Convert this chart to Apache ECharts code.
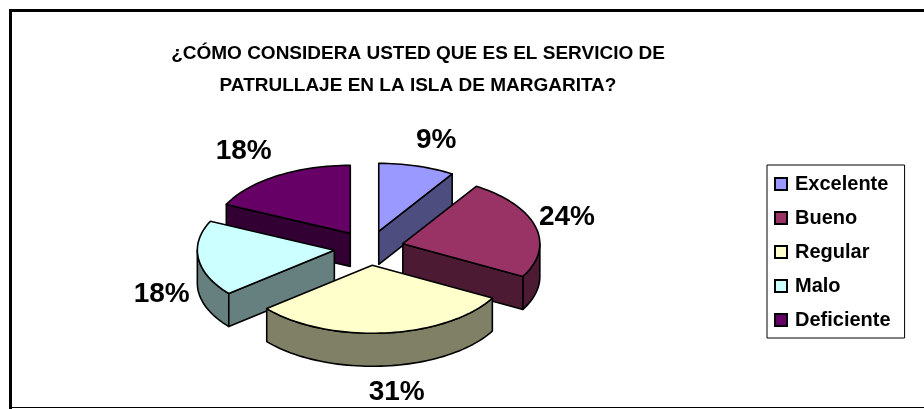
<!DOCTYPE html>
<html>
<head>
<meta charset="utf-8">
<script src="https://cdn.jsdelivr.net/npm/echarts@6/dist/echarts.min.js"></script>
<style>
  html, body { margin: 0; padding: 0; background: #fff; }
  #chart { width: 924px; height: 409px; }
</style>
</head>
<body>
<div id="chart"></div>
<script>
// data
const categories = ['Excelente', 'Bueno', 'Regular', 'Malo', 'Deficiente'];
const percentages = [9, 24, 31, 18, 18];
const topColors = ['#9999FF', '#993366', '#FFFFCC', '#CCFFFF', '#660066'];
// small label tweaks, Excel had them dragged around a bit
const labelNudge = [[3, 2], [-25, -2], [6, -2], [21, 28], [-2, 0]];

// 3d pie geometry
const CX = 369, CY = 248, RX = 137, RY = 68, DEPTH = 33, EXPLODE = 0.255;
const FONT = '"Liberation Sans", Arial, sans-serif';

function shade(hex, f) {
  const n = parseInt(hex.slice(1), 16);
  const r = Math.round(((n >> 16) & 255) * f);
  const g = Math.round(((n >> 8) & 255) * f);
  const b = Math.round((n & 255) * f);
  return 'rgb(' + r + ',' + g + ',' + b + ')';
}

function pt(ox, oy, deg, dy) {
  const r = deg * Math.PI / 180;
  return [ox + RX * Math.sin(r), oy - RY * Math.cos(r) + (dy || 0)];
}

function arc(ox, oy, a, b, dy) {
  const n = Math.max(2, Math.ceil(Math.abs(b - a) / 2));
  const pts = [];
  for (let k = 0; k <= n; k++) pts.push(pt(ox, oy, a + (b - a) * k / n, dy));
  return pts;
}

function renderSlice(i) {
  return function (params, api) {
    const total = percentages.reduce((s, v) => s + v, 0);
    let before = 0;
    for (let k = 0; k < i; k++) before += percentages[k];
    const value = api.value(0);
    const start = before / total * 360;
    const end = start + value / total * 360;
    const mid = (start + end) / 2 * Math.PI / 180;
    const ox = CX + EXPLODE * RX * Math.sin(mid);
    const oy = CY - EXPLODE * RY * Math.cos(mid);
    const base = Math.round((1 - Math.cos(mid)) * 50) * 3;
    const side = shade(topColors[i], 0.5);
    const sideStyle = { fill: side, stroke: '#000', lineWidth: 1.6, lineJoin: 'round' };
    const children = [];

    // curved outer wall, only the part facing us
    const t1 = Math.max(start, 90), t2 = Math.min(end, 270);
    if (t2 > t1) {
      children.push({
        type: 'polygon', z2: base,
        shape: { points: arc(ox, oy, t1, t2, 0).concat(arc(ox, oy, t2, t1, DEPTH)) },
        style: sideStyle
      });
    }
    // flat cut faces
    if (Math.sin(start * Math.PI / 180) < -1e-6) {
      const p = pt(ox, oy, start);
      children.push({
        type: 'polygon', z2: base,
        shape: { points: [[ox, oy], p, [p[0], p[1] + DEPTH], [ox, oy + DEPTH]] },
        style: sideStyle
      });
    }
    if (Math.sin(end * Math.PI / 180) > 1e-6) {
      const p = pt(ox, oy, end);
      children.push({
        type: 'polygon', z2: base,
        shape: { points: [[ox, oy], p, [p[0], p[1] + DEPTH], [ox, oy + DEPTH]] },
        style: sideStyle
      });
    }
    // top face
    children.push({
      type: 'polygon', z2: base + 1,
      shape: { points: [[ox, oy]].concat(arc(ox, oy, start, end, 0)) },
      style: { fill: topColors[i], stroke: '#000', lineWidth: 1.6, lineJoin: 'round' }
    });
    // percent label
    const k = 1.68;
    const lx = CX + k * RX * Math.sin(mid) + labelNudge[i][0];
    const ly = CY - k * RY * Math.cos(mid) + DEPTH * Math.max(0, -Math.cos(mid)) + labelNudge[i][1];
    children.push({
      type: 'text', z2: 1000, x: lx, y: ly,
      style: {
        text: value + '%', fill: '#000', align: 'center', verticalAlign: 'middle',
        fontSize: 28, fontWeight: 'bold', fontFamily: FONT
      }
    });
    return { type: 'group', children: children };
  };
}

const chart = echarts.init(document.getElementById('chart'));
const series = categories.map(function (name, i) {
  return {
    name: name,
    type: 'custom',
    coordinateSystem: 'none',
    itemStyle: { color: topColors[i] },
    renderItem: renderSlice(i),
    data: [[percentages[i]]]
  };
});

chart.setOption({
  animation: false,
  backgroundColor: '#fff',
  title: {
    text: '¿CÓMO CONSIDERA USTED QUE ES EL SERVICIO DE\nPATRULLAJE EN LA ISLA DE MARGARITA?',
    left: 418,
    top: 38,
    textAlign: 'center',
    padding: 0,
    textStyle: { fontSize: 19, fontWeight: 'bold', fontFamily: FONT, color: '#000', lineHeight: 32 }
  },
  legend: {
    orient: 'vertical',
    left: 767,
    top: 165,
    padding: [9, 14, 8, 7],
    backgroundColor: '#fff',
    borderColor: '#000',
    borderWidth: 1,
    borderRadius: 0,
    itemGap: 14,
    itemWidth: 12,
    itemHeight: 12,
    icon: 'rect',
    itemStyle: { borderColor: '#000', borderWidth: 2 },
    selectedMode: false,
    data: categories,
    textStyle: { fontSize: 20, fontWeight: 'bold', fontFamily: FONT, color: '#000', lineHeight: 20, padding: [0, 0, 0, 3] }
  },
  graphic: [
    { type: 'rect', shape: { x: 9, y: 9, width: 3, height: 400 }, style: { fill: '#000' } },
    { type: 'rect', shape: { x: 9, y: 9, width: 915, height: 3 }, style: { fill: '#000' } },
    { type: 'rect', shape: { x: 9, y: 407, width: 915, height: 1 }, style: { fill: '#000' } }
  ],
  series: series
});
</script>
</body>
</html>
